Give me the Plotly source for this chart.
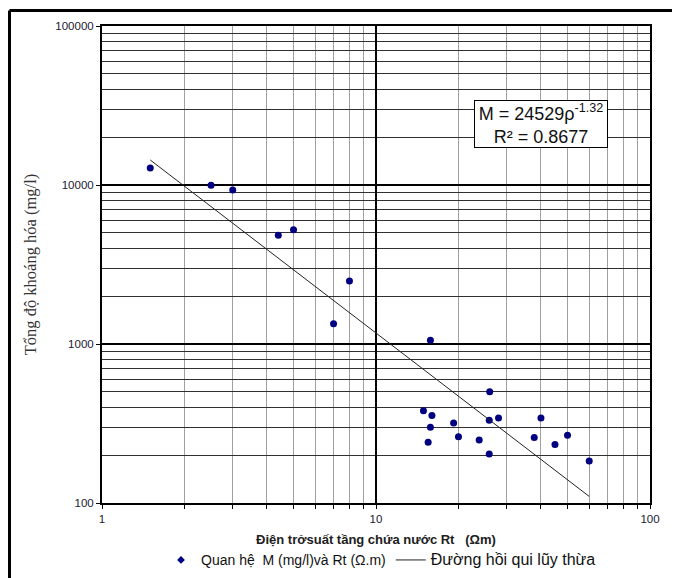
import plotly.graph_objects as go

# Data
rt_values = [1.5, 2.5, 3.0, 4.4, 5.0, 8.0, 7.0, 15.8, 26.0, 14.9, 16.0, 15.8, 15.5,
             19.2, 20.0, 23.8, 25.9, 28.0, 25.9, 37.8, 40.0, 45.0, 50.0, 60.0]
m_values = [12800, 9950, 9300, 4830, 5230, 2490, 1340, 1055, 500, 380, 355, 300, 241,
            318, 261, 249, 331, 343, 203, 258, 343, 233, 267, 184]
trend_x = [1.5, 60]
trend_y = [14360, 110]

scatter_name = "Quan hệ  M (mg/l)và Rt (Ω.m)"
trend_name = "Đường hồi qui lũy thừa"
equation_text = "M = 24529ρ<sup>-1.32</sup><br>R² = 0.8677"
x_title = "<b>Điện trởsuất tầng chứa nước Rt   (Ωm)</b>"
y_title = "Tổng độ khoáng hóa (mg/l)"

# page body has an 8px margin: figure is 672x570 placed at (8,8)
OFF = 8
W, H = 680 - OFF, 578 - OFF
PX0, PX1, PY0, PY1 = 102, 650, 26, 503          # plot area in window pixels
L, R, T, B = PX0 - OFF, W - (PX1 - OFF), PY0 - OFF, H - (PY1 - OFF)
pw, ph = PX1 - PX0, PY1 - PY0


def px(xw):
    return (xw - PX0) / pw


def py(yw):
    return (PY1 - yw) / ph


fig = go.Figure()
fig.add_trace(go.Scatter(
    x=rt_values, y=m_values, mode="markers",
    marker=dict(color="#000080", size=7, symbol="circle"),
    showlegend=False, name=scatter_name))
fig.add_trace(go.Scatter(
    x=[None], y=[None], mode="markers",
    marker=dict(color="#000080", size=6, symbol="diamond"),
    name='<span style="font-size:14px">' + scatter_name + "</span>"))
fig.add_trace(go.Scatter(
    x=trend_x, y=trend_y, mode="lines",
    line=dict(color="#222222", width=1),
    name='<span style="font-size:16px">' + trend_name + "</span>"))

fig.update_xaxes(
    type="log", range=[0, 2], dtick=1, tickformat="d",
    showline=True, linecolor="black", linewidth=2, mirror=True,
    showgrid=True, gridcolor="black", gridwidth=2,
    ticks="outside", ticklen=4, tickcolor="black",
    minor=dict(dtick="D1", showgrid=True, gridcolor="#a0a0a0", gridwidth=1,
               ticks="outside", ticklen=4, tickcolor="black"),
    tickfont=dict(family="Liberation Sans", size=11.5, color="#202030"),
    title=dict(text=x_title, standoff=11,
               font=dict(family="Liberation Sans", size=13, color="#202020")),
    zeroline=False)
fig.update_yaxes(
    type="log", range=[2, 5], dtick=1, tickformat="d",
    showline=True, linecolor="black", linewidth=2, mirror=True,
    showgrid=True, gridcolor="black", gridwidth=2,
    ticks="outside", ticklen=4, tickcolor="black",
    minor=dict(dtick="D1", showgrid=True, gridcolor="#303030", gridwidth=1,
               ticks=""),
    tickfont=dict(family="Liberation Sans", size=11.5, color="#202030"),
    title=dict(text=y_title, standoff=15,
               font=dict(family="Liberation Serif", size=16.5, color="#333333")),
    zeroline=False)

fig.add_annotation(
    xref="paper", yref="paper",
    x=px(540.5), y=py(124),
    xanchor="center", yanchor="middle",
    text=equation_text, showarrow=False, align="center",
    width=130, height=44,
    font=dict(family="Liberation Sans", size=18, color="#111111"),
    bgcolor="white", bordercolor="black", borderwidth=1, borderpad=1)

# outer frame (left and top edges visible in the reference)
fig.add_shape(type="line", xref="paper", yref="paper",
              x0=px(9.5), x1=px(9.5), y0=py(10.5), y1=-0.3,
              line=dict(color="black", width=3))
fig.add_shape(type="line", xref="paper", yref="paper",
              x0=px(9.5), x1=1.2, y0=py(10.5), y1=py(10.5),
              line=dict(color="black", width=3))

fig.update_layout(
    width=W, height=H,
    margin=dict(l=L, r=R, t=T, b=B, autoexpand=False),
    plot_bgcolor="white", paper_bgcolor="white",
    legend=dict(orientation="h", x=px(161), xanchor="left",
                y=py(560), yanchor="middle",
                font=dict(family="Liberation Sans", size=13, color="#111111"),
                bgcolor="rgba(0,0,0,0)", itemwidth=30),
    showlegend=True)

fig.write_html("out.html")
